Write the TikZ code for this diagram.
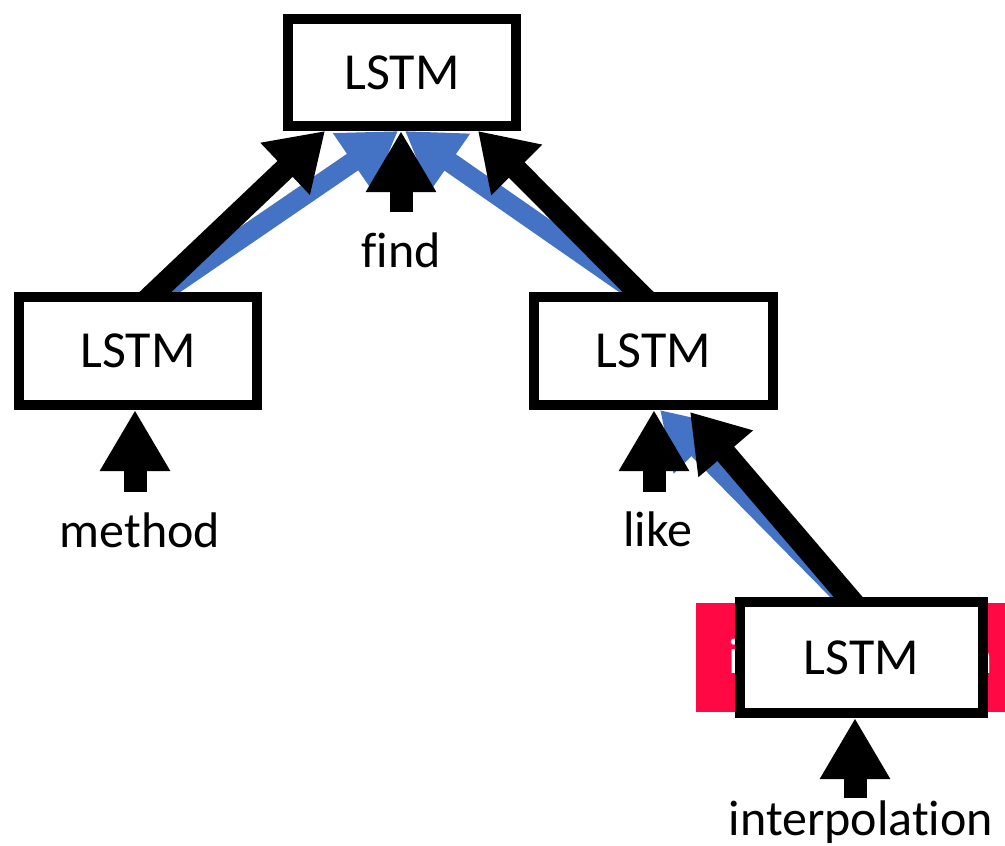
\documentclass[tikz,border=0pt]{standalone}
\usepackage{fontspec}
\setmainfont{Carlito}[Ligatures=NoCommon]
\usetikzlibrary{arrows.meta,calc}
\pgfdeclarelayer{bg}
\pgfsetlayers{bg,main}
\definecolor{arrowblue}{RGB}{68,114,196}
\definecolor{tagred}{RGB}{255,8,68}
\tikzset{
  lstm/.style={draw=black, line width=10pt, fill=white, inner sep=0pt,
    font=\fontsize{52}{60}\selectfont},
  word/.style={inner sep=0pt, anchor=base, font=\fontsize{50}{58}\selectfont},
  bigblack/.style={draw=black, line width=22pt, -{Triangle[length=55pt,width=68pt]}},
  bigblue/.style={draw=arrowblue, line width=20pt, -{Triangle[length=55pt,width=66pt]}},
  inarrow/.style={draw=black, line width=23pt, -{Triangle[length=61pt,width=66pt]}}
}
\begin{document}
\begin{tikzpicture}[x=1pt,y=-1pt]
\useasboundingbox (0,0) rectangle (1005,846);

% LSTM cells
\node[lstm, minimum width=228pt, minimum height=107pt] (top) at (402,72.5) {LSTM};
\node[lstm, minimum width=238pt, minimum height=108pt] (left) at (138,351) {LSTM};
\node[lstm, minimum width=239pt, minimum height=108pt] (right) at (653.5,351) {LSTM};
\node[lstm, minimum width=243pt, minimum height=111pt] (bot) at (861.5,657.5) {LSTM};

% input words
\node[word] (wfind) at (401,267) {find};
\node[word] (wmethod) at (140,547) {method};
\node[word] (wlike) at (658,546) {like};
\node[word] (winterp) at (861,835) {interpolation};

% input arrow tails
\coordinate (tfind) at (401,212);
\coordinate (tmethod) at (135,492);
\coordinate (tlike) at (654,492);
\coordinate (tinterp) at (855,798);

\begin{pgfonlayer}{bg}
  % highlighted token behind the bottom cell
  \node[fill=tagred, minimum width=309pt, minimum height=109pt, inner sep=0pt] (tag) at (850.5,657.5) {};
  \node[word, text=white] (tagtext) at (861,673) {interpolation};

  % blue arrows
  \draw[bigblue] ([xshift=13pt,yshift=-8pt]left.north) -- ([xshift=-4pt]top.south);
  \draw[bigblue] ([xshift=-5.5pt,yshift=-8pt]right.north) -- ([xshift=3pt]top.south);
  \draw[bigblue] ([xshift=-9.5pt,yshift=-8pt]bot.north) -- ([xshift=6.5pt]right.south);

  % black arrows
  \draw[bigblack] ([xshift=9pt,yshift=-8pt]left.north) -- ([xshift=-77pt]top.south);
  \draw[bigblack] ([xshift=-7.5pt,yshift=-8pt]right.north) -- ([xshift=76pt]top.south);
  \draw[bigblack] ([xshift=-6.5pt,yshift=-8pt]bot.north) -- ([xshift=36.5pt,yshift=-2pt]right.south);
\end{pgfonlayer}

% word inputs
\draw[inarrow] (tfind) -- (tfind |- top.south);
\draw[inarrow] (tmethod) -- (tmethod |- left.south);
\draw[inarrow] (tlike) -- (tlike |- right.south);
\draw[inarrow] (tinterp) -- (tinterp |- bot.south);
\end{tikzpicture}
\end{document}
